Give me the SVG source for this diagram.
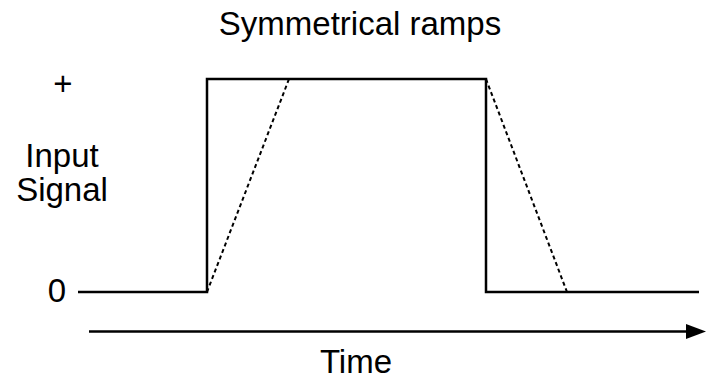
<svg xmlns="http://www.w3.org/2000/svg" width="716" height="379" viewBox="0 0 716 379">
<style>
text{font-family:"Liberation Sans",Arial,sans-serif;font-size:33px;fill:#000}
.s{fill:none;stroke:#000;stroke-width:2.5}
.d{fill:none;stroke:#000;stroke-width:2;stroke-dasharray:4,3}
</style>
<rect width="716" height="379" fill="#fff"/>
<g id="labels">
<text x="360" y="35" text-anchor="middle">Symmetrical ramps</text>
<text x="63" y="95" text-anchor="middle">+</text>
<text x="62" y="167" text-anchor="middle">Input</text>
<text x="62" y="201" text-anchor="middle">Signal</text>
<text x="57" y="302" text-anchor="middle">0</text>
<text x="356" y="373" text-anchor="middle">Time</text>
</g>
<g id="connectors">
<path class="s" d="M78,292H207V79H486V292H699"/>
<path class="d" d="M207,292L289,79M486,79L567,292"/>
<path class="s" d="M89,331.5H690"/>
<path d="M686,324L706,331.5L686,339z" fill="#000"/>
</g>
</svg>
